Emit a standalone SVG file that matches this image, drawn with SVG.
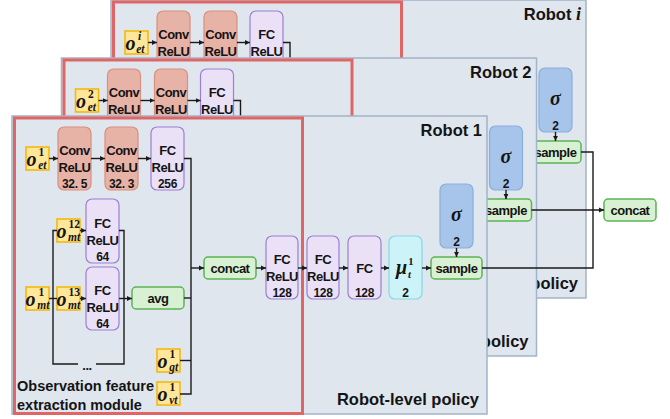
<svg xmlns="http://www.w3.org/2000/svg" width="670" height="419" viewBox="0 0 670 419">
<style>
.bg{fill:#ffffff}
.panel{fill:#DFE6EE;stroke:#A2B4C8;stroke-width:1.5}
.red{fill:none;stroke:#E06666;stroke-width:3}
.conv{fill:#E8B3A7;stroke:#D8907F;stroke-width:1.2}
.fc{fill:#EAE1F7;stroke:#9C7FD3;stroke-width:1.2}
.obs{fill:#FFE699;stroke:#F2B705;stroke-width:1.5}
.grn{fill:#D8F1D2;stroke:#5DB356;stroke-width:1.5}
.mu{fill:#CCF3F8;stroke:#84D9E8;stroke-width:1.2}
.sig{fill:#A7C5EA;stroke:#8AAEDB;stroke-width:1.2}
.ln{fill:none;stroke:#1a1a1a;stroke-width:1.4}
.ar{marker-end:url(#ah)}
.t{font-family:"Liberation Sans",Arial,sans-serif;font-weight:bold;font-size:13px;letter-spacing:-0.5px;fill:#141414;text-anchor:middle}
.n{font-size:12px;letter-spacing:-0.3px}
.title{font-size:16.5px;letter-spacing:0;text-anchor:end}
.lft{font-size:14.5px;letter-spacing:0;text-anchor:start}
.m{font-family:"Liberation Serif","Times New Roman",serif;font-weight:bold;font-style:italic;fill:#141414;font-size:20px}
.s{font-size:11.5px}
.up{font-style:normal}
</style>
<defs>
<marker id="ah" markerWidth="6" markerHeight="6" refX="5" refY="3" orient="auto" markerUnits="userSpaceOnUse"><path d="M0,0.6 L5,3 L0,5.4 z" fill="#1a1a1a"/></marker>
</defs>
<rect class="bg" x="0" y="0" width="670" height="419"/>

<!-- Robot i -->
<g id="robot-i" transform="translate(99,-116)">
<rect class="panel" x="12" y="116" width="475" height="298"/>
<text class="t title" x="482" y="136">Robot <tspan font-family="Liberation Serif, serif" font-style="italic" font-size="18">i</tspan></text>
<text class="t title" x="479" y="405">policy</text>
<rect class="red" x="14.5" y="118" width="288" height="295.5"/>
<g id="ri-o-et"><rect class="obs" x="26" y="147" width="23" height="23"/><text class="m" x="26.5" y="166">o<tspan class="s" dx="2.5" dy="-10.2">i</tspan><tspan class="s" dx="-5" dy="13.2">et</tspan></text></g>
<g id="ri-conv1"><rect class="conv" x="58" y="127" width="33" height="63" rx="6"/><text class="t" x="74.5" y="155">Conv</text><text class="t" x="74.5" y="172">ReLU</text></g>
<g id="ri-conv2"><rect class="conv" x="105" y="127" width="33" height="63" rx="6"/><text class="t" x="121.5" y="155">Conv</text><text class="t" x="121.5" y="172">ReLU</text></g>
<g id="ri-fc"><rect class="fc" x="151" y="127" width="33" height="63" rx="6"/><text class="t" x="167.5" y="155">FC</text><text class="t" x="167.5" y="172">ReLU</text></g>
<g id="ri-sigma"><rect class="sig" x="440" y="184" width="33" height="64" rx="6"/><text class="m" x="456.5" y="221" font-size="16" font-weight="normal" text-anchor="middle">σ</text><text class="t n" x="456.5" y="246">2</text></g>
<g id="ri-sample"><rect class="grn" x="431" y="257" width="51" height="22" rx="4"/><text class="t" x="456.5" y="272.5">sample</text></g>
<g id="ri-connectors">
<path class="ln ar" d="M49,158.5 H58"/><path class="ln ar" d="M91,158.5 H105"/><path class="ln ar" d="M138,158.5 H151"/>
<path class="ln" d="M184,158.5 H191 V200"/><path class="ln ar" d="M456.5,248 V257"/>
</g>
</g>

<!-- Robot 2 -->
<g id="robot-2" transform="translate(49.5,-58)">
<rect class="panel" x="12" y="116" width="475" height="298"/>
<text class="t title" x="482" y="136">Robot 2</text>
<text class="t title" x="479" y="405">policy</text>
<rect class="red" x="14.5" y="118" width="288" height="295.5"/>
<g id="r2-o-et"><rect class="obs" x="26" y="147" width="23" height="23"/><text class="m" x="26.5" y="166">o<tspan class="s up" dx="2" dy="-10.2">2</tspan><tspan class="s" dx="-6" dy="13.2">et</tspan></text></g>
<g id="r2-conv1"><rect class="conv" x="58" y="127" width="33" height="63" rx="6"/><text class="t" x="74.5" y="155">Conv</text><text class="t" x="74.5" y="172">ReLU</text></g>
<g id="r2-conv2"><rect class="conv" x="105" y="127" width="33" height="63" rx="6"/><text class="t" x="121.5" y="155">Conv</text><text class="t" x="121.5" y="172">ReLU</text></g>
<g id="r2-fc"><rect class="fc" x="151" y="127" width="33" height="63" rx="6"/><text class="t" x="167.5" y="155">FC</text><text class="t" x="167.5" y="172">ReLU</text></g>
<g id="r2-sigma"><rect class="sig" x="440" y="184" width="33" height="64" rx="6"/><text class="m" x="456.5" y="221" font-size="16" font-weight="normal" text-anchor="middle">σ</text><text class="t n" x="456.5" y="246">2</text></g>
<g id="r2-sample"><rect class="grn" x="431" y="257" width="51" height="22" rx="4"/><text class="t" x="456.5" y="272.5">sample</text></g>
<g id="r2-connectors">
<path class="ln ar" d="M49,158.5 H58"/><path class="ln ar" d="M91,158.5 H105"/><path class="ln ar" d="M138,158.5 H151"/>
<path class="ln" d="M184,158.5 H191 V200"/><path class="ln ar" d="M456.5,248 V257"/>
</g>
</g>

<!-- Robot 1 -->
<g id="robot-1">
<rect class="panel" x="12" y="116" width="475" height="298"/>
<text class="t title" x="482" y="136">Robot 1</text>
<text class="t title" x="479" y="405">Robot-level policy</text>
<rect class="red" x="14.5" y="118" width="288" height="295.5"/>
<text class="t lft" x="17" y="391">Observation feature</text>
<text class="t lft" x="17" y="410">extraction module</text>

<g id="r1-o-et"><rect class="obs" x="26" y="147" width="23" height="23"/><text class="m" x="26.5" y="166">o<tspan class="s up" dx="2" dy="-10.2">1</tspan><tspan class="s" dx="-6" dy="13.2">et</tspan></text></g>
<g id="r1-conv1"><rect class="conv" x="58" y="127" width="33" height="63" rx="6"/><text class="t" x="74.5" y="155">Conv</text><text class="t" x="74.5" y="172">ReLU</text><text class="t n" x="74.5" y="188">32. 5</text></g>
<g id="r1-conv2"><rect class="conv" x="105" y="127" width="33" height="63" rx="6"/><text class="t" x="121.5" y="155">Conv</text><text class="t" x="121.5" y="172">ReLU</text><text class="t n" x="121.5" y="188">32. 3</text></g>
<g id="r1-fc256"><rect class="fc" x="151" y="127" width="33" height="63" rx="6"/><text class="t" x="167.5" y="155">FC</text><text class="t" x="167.5" y="172">ReLU</text><text class="t n" x="167.5" y="188">256</text></g>

<g id="r1-o-mt12"><rect class="obs" x="57" y="219" width="23" height="23"/><text class="m" x="56.5" y="238">o<tspan class="s up" dx="2" dy="-10.2">12</tspan><tspan class="s" dx="-12" dy="13.2">mt</tspan></text></g>
<g id="r1-fc64a"><rect class="fc" x="86" y="199" width="33" height="64" rx="6"/><text class="t" x="102.5" y="228">FC</text><text class="t" x="102.5" y="245">ReLU</text><text class="t n" x="102.5" y="261">64</text></g>
<g id="r1-o-mt1"><rect class="obs" x="26" y="287" width="23" height="23"/><text class="m" x="25.5" y="306">o<tspan class="s up" dx="3" dy="-10.2">1</tspan><tspan class="s" dx="-7" dy="13.2">mt</tspan></text></g>
<g id="r1-o-mt13"><rect class="obs" x="57" y="287" width="23" height="23"/><text class="m" x="56.5" y="306">o<tspan class="s up" dx="2" dy="-10.2">13</tspan><tspan class="s" dx="-12" dy="13.2">mt</tspan></text></g>
<g id="r1-fc64b"><rect class="fc" x="86" y="267" width="33" height="63" rx="6"/><text class="t" x="102.5" y="295">FC</text><text class="t" x="102.5" y="312">ReLU</text><text class="t n" x="102.5" y="328">64</text></g>
<g id="r1-avg"><rect class="grn" x="132" y="287" width="52" height="22" rx="4"/><text class="t" x="158" y="302.5">avg</text></g>
<g id="r1-dots"><text class="t" x="87" y="370">...</text></g>
<g id="r1-o-gt"><rect class="obs" x="157" y="349" width="23" height="23"/><text class="m" x="157.5" y="368">o<tspan class="s up" dx="2" dy="-10.2">1</tspan><tspan class="s" dx="-6" dy="13.2">gt</tspan></text></g>
<g id="r1-o-vt"><rect class="obs" x="157" y="382" width="23" height="23"/><text class="m" x="157.5" y="401">o<tspan class="s up" dx="2" dy="-10.2">1</tspan><tspan class="s" dx="-6" dy="13.2">vt</tspan></text></g>

<g id="r1-concat"><rect class="grn" x="204" y="257" width="52" height="22" rx="4"/><text class="t" x="230" y="272.5">concat</text></g>
<g id="r1-fc128a"><rect class="fc" x="266" y="236" width="32" height="63" rx="6"/><text class="t" x="282" y="264">FC</text><text class="t" x="282" y="281">ReLU</text><text class="t n" x="282" y="297">128</text></g>
<g id="r1-fc128b"><rect class="fc" x="307" y="236" width="32" height="63" rx="6"/><text class="t" x="323" y="264">FC</text><text class="t" x="323" y="281">ReLU</text><text class="t n" x="323" y="297">128</text></g>
<g id="r1-fc128c"><rect class="fc" x="348" y="236" width="33" height="63" rx="6"/><text class="t" x="364.5" y="273">FC</text><text class="t n" x="364.5" y="297">128</text></g>
<g id="r1-mu"><rect class="mu" x="389" y="236" width="33" height="63" rx="6"/><text class="m" x="396" y="274" font-size="18" font-weight="normal">μ<tspan font-size="10.5" font-weight="bold" font-style="normal" dx="1" dy="-9.5">1</tspan><tspan font-size="10.5" font-weight="bold" dx="-5.3" dy="13.5">t</tspan></text><text class="t n" x="405.5" y="297">2</text></g>
<g id="r1-sigma"><rect class="sig" x="440" y="184" width="33" height="64" rx="6"/><text class="m" x="456.5" y="221" font-size="16" font-weight="normal" text-anchor="middle">σ</text><text class="t n" x="456.5" y="246">2</text></g>
<g id="r1-sample"><rect class="grn" x="431" y="257" width="51" height="22" rx="4"/><text class="t" x="456.5" y="272.5">sample</text></g>

<g id="r1-connectors">
<path class="ln ar" d="M49,158.5 H58"/>
<path class="ln ar" d="M91,158.5 H105"/>
<path class="ln ar" d="M138,158.5 H151"/>
<path class="ln" d="M184,158.5 H191 V394 H180"/>
<path class="ln ar" d="M191,268 H204"/>
<path class="ln" d="M184,298 H191"/>
<path class="ln" d="M180,360.5 H191"/>
<path class="ln" d="M49,298.5 H57"/>
<path class="ln" d="M57,230.5 H53 V364 H78"/>
<path class="ln" d="M96,364 H124 V230.5 H119"/>
<path class="ln ar" d="M80,230.5 H86"/>
<path class="ln ar" d="M80,298.5 H86"/>
<path class="ln ar" d="M119,298.5 H132"/>
<path class="ln ar" d="M256,268 H266"/>
<path class="ln ar" d="M298,268 H307"/>
<path class="ln ar" d="M339,268 H348"/>
<path class="ln ar" d="M381,268 H389"/>
<path class="ln ar" d="M422,268 H431"/>
<path class="ln ar" d="M456.5,248 V257"/>
</g>
</g>

<g id="final-concat"><rect class="grn" x="604" y="199" width="52" height="22" rx="4"/><text class="t" x="630" y="214.5">concat</text></g>

<g id="connectors">
<path class="ln" d="M482,268 H593 V152 H581"/>
<path class="ln ar" d="M531.5,210 H604"/>
</g>
</svg>
